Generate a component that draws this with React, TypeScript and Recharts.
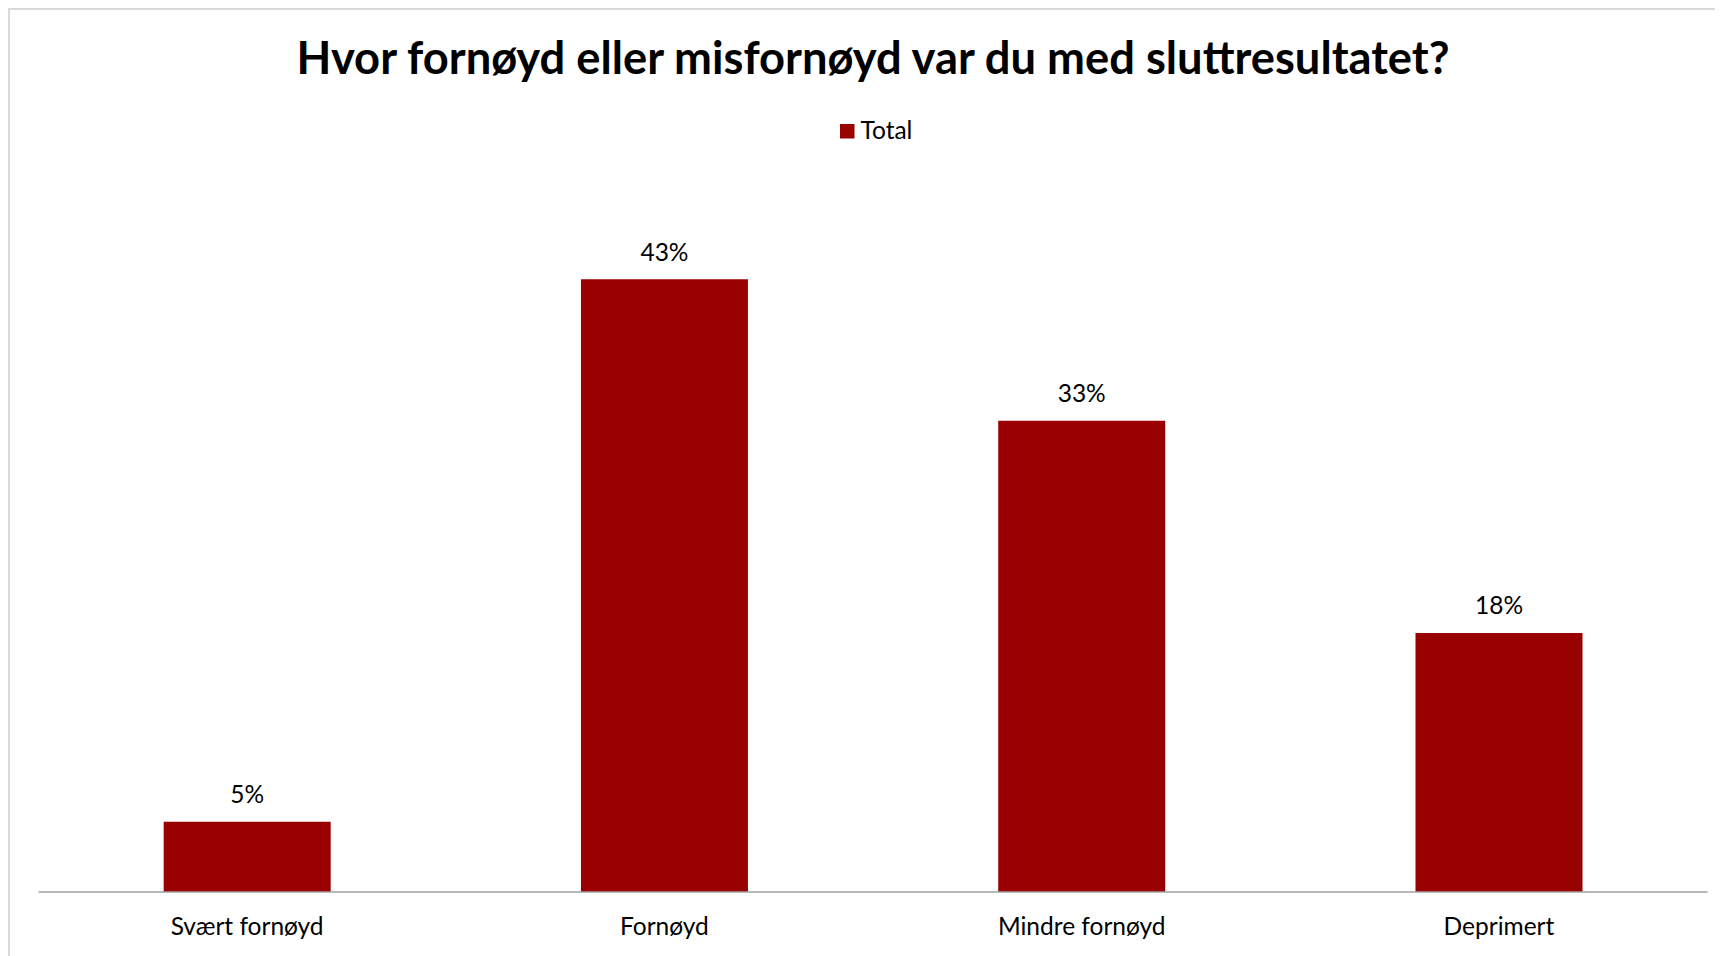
import React from "react";
import { BarChart, Bar, XAxis, YAxis, Legend, LabelList } from "recharts";

const titleText = "Hvor fornøyd eller misfornøyd var du med sluttresultatet?";
const categories = ["Svært fornøyd", "Fornøyd", "Mindre fornøyd", "Deprimert"];
const totalValues = [0.0498, 0.4336, 0.3335, 0.1833];
const seriesName = "Total";
const yDomain = [0, 0.5];

const data = categories.map((c, i) => ({ category: c, [seriesName]: totalValues[i] }));

const FONT = "Lato, 'Open Sans', sans-serif";
const BAR_COLOR = "#990000";
const W = 1715;
const H = 948;
const TEXT_SIZE = 24.5;

const fmtPct = (v: number) => `${Math.round(v * 100)}%`;

const CategoryTick = (props: any) => {
  const { x, y, payload } = props;
  return (
    <text x={x} y={y + 35} textAnchor="middle" fontFamily={FONT} fontSize={TEXT_SIZE} fill="#000">
      {payload.value}
    </text>
  );
};

const ValueLabel = (props: any) => {
  const { x, y, width, value } = props;
  return (
    <text x={x + width / 2} y={y - 18.5} textAnchor="middle" fontFamily={FONT} fontSize={TEXT_SIZE} fill="#000">
      {fmtPct(value)}
    </text>
  );
};

const LegendContent = () => (
  <svg width={130} height={34} style={{ display: "block", overflow: "visible" }}>
    <rect x={0} y={6} width={14.5} height={14.5} fill={BAR_COLOR} />
    <text x={20.5} y={20.5} fontFamily={FONT} fontSize={TEXT_SIZE} fill="#000">
      {seriesName}
    </text>
  </svg>
);

export default function App() {
  return (
    <div style={{ position: "relative", width: W, height: H, overflow: "hidden", background: "#fff" }}>
      <div
        style={{
          position: "absolute",
          left: 0,
          top: 0,
          width: 1800,
          height: 1000,
          border: "2px solid #d9d9d9",
          boxSizing: "border-box",
        }}
      />
      <div style={{ position: "absolute", left: 0, top: 0 }}>
        <BarChart
          width={W}
          height={H}
          data={data}
          margin={{ top: 177.5, right: 15.4, bottom: 0, left: 30.5 }}
          barCategoryGap="30%"
        >
          <XAxis
            dataKey="category"
            axisLine={{ stroke: "#a0a0a0", strokeWidth: 1.5 }}
            tickLine={false}
            tick={<CategoryTick />}
            height={64}
            interval={0}
          />
          <YAxis hide domain={yDomain} />
          <Legend
            verticalAlign="middle"
            align="center"
            wrapperStyle={{ top: 110, left: 832, width: 130, height: 34 }}
            content={<LegendContent />}
          />
          <Bar dataKey={seriesName} fill={BAR_COLOR} isAnimationActive={false}>
            <LabelList dataKey={seriesName} content={<ValueLabel />} />
          </Bar>
        </BarChart>
      </div>
      <svg
        width={W}
        height={120}
        style={{ position: "absolute", left: 0, top: 0, pointerEvents: "none" }}
      >
        <text x={865} y={66} textAnchor="middle" fontFamily={FONT} fontWeight={700} fontSize={45.3} fill="#000">
          {titleText}
        </text>
      </svg>
    </div>
  );
}
